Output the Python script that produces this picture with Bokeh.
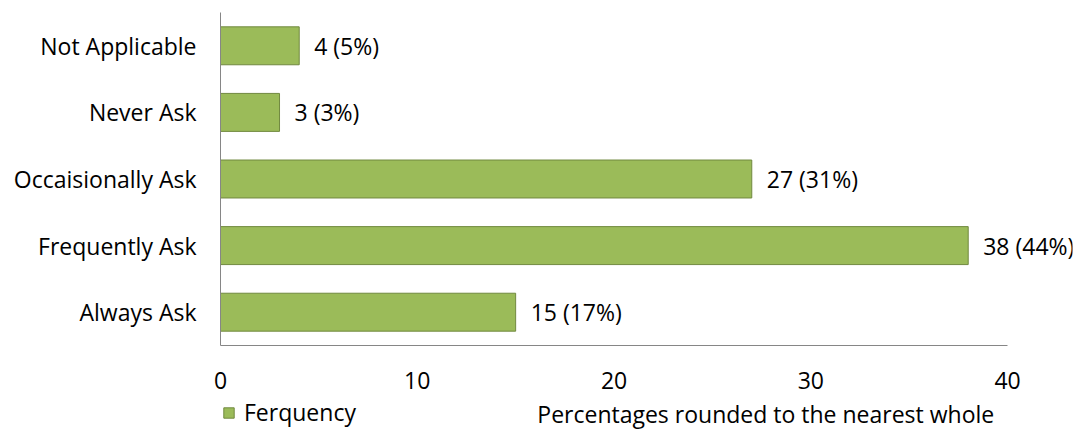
from bokeh.plotting import figure
from bokeh.layouts import column
from bokeh.models import ColumnDataSource, Legend, LegendItem, FixedTicker, Label, Range1d
from bokeh.core.properties import value
from bokeh.embed import file_html
from bokeh.resources import INLINE

categories = ["Always Ask", "Frequently Ask", "Occaisionally Ask", "Never Ask", "Not Applicable"]
frequency = [15, 38, 27, 3, 4]
percent = [17, 44, 31, 3, 5]
x_ticks = [0, 10, 20, 30, 40]
series_name = "Ferquency"
note_text = "Percentages rounded to the nearest whole"

FONT = "Open Sans"
SIZE = "23px"
BAR = "#9BBB59"
EDGE = "#71893F"
AXIS = "#868686"
W = 1076

src = ColumnDataSource(dict(
    cat=categories,
    freq=frequency,
    label=[f"{f} ({p}%)" for f, p in zip(frequency, percent)],
))

# main chart; the frame runs past 40 so the value labels fit, the axis line stops at 40
p = figure(
    width=W, height=395, y_range=categories, x_range=(0, 43.3),
    output_backend="svg", toolbar_location=None,
    min_border_left=220, min_border_right=4, min_border_top=12, min_border_bottom=50,
)
p.outline_line_color = None
p.grid.grid_line_color = None
p.y_range.range_padding = 0

p.hbar(y="cat", right="freq", left=0, height=0.57, source=src,
       fill_color=BAR, line_color=EDGE, line_width=1)

p.text(x="freq", y="cat", text="label", source=src, x_offset=15,
       text_baseline="middle", text_align="left",
       text_font=value(FONT), text_font_size=SIZE, text_color="#000000")

for ax in (p.xaxis[0], p.yaxis[0]):
    ax.axis_line_color = AXIS
    ax.major_tick_line_color = None
    ax.minor_tick_line_color = None
    ax.major_label_text_font = FONT
    ax.major_label_text_font_size = SIZE
    ax.major_label_text_color = "#000000"

p.xaxis[0].ticker = FixedTicker(ticks=x_ticks)
p.xaxis[0].bounds = (0, 40)
p.xaxis[0].major_label_standoff = 20
p.yaxis[0].major_label_standoff = 18

# footer strip (frame aligned with the chart above) holding the key and the rounding note
f = figure(width=W, height=34, x_range=p.x_range, y_range=Range1d(0, 34),
           output_backend="svg", toolbar_location=None,
           min_border=0, x_axis_location=None, y_axis_location=None)
f.outline_line_color = None
f.grid.grid_line_color = None
# hidden copy of the series: only supplies the legend swatch
swatch = f.hbar(y="freq", right="freq", left=0, height=0.57, source=src,
                fill_color=BAR, line_color=EDGE, line_width=1, visible=False)

legend = Legend(items=[LegendItem(label=series_name, renderers=[swatch])],
                location=(2, 1), orientation="horizontal",
                label_text_font=FONT, label_text_font_size=SIZE,
                label_text_color="#000000", label_height=13,
                glyph_width=13, glyph_height=13, padding=0, margin=0,
                label_standoff=9, border_line_color=None,
                background_fill_alpha=0)
f.add_layout(legend, "center")

f.add_layout(Label(x=16.1, y=16, text=note_text, text_font=FONT, text_font_size=SIZE,
                   text_baseline="middle", text_color="#000000"))

open("out.html", "w").write(file_html(column(p, f, spacing=0), INLINE))
